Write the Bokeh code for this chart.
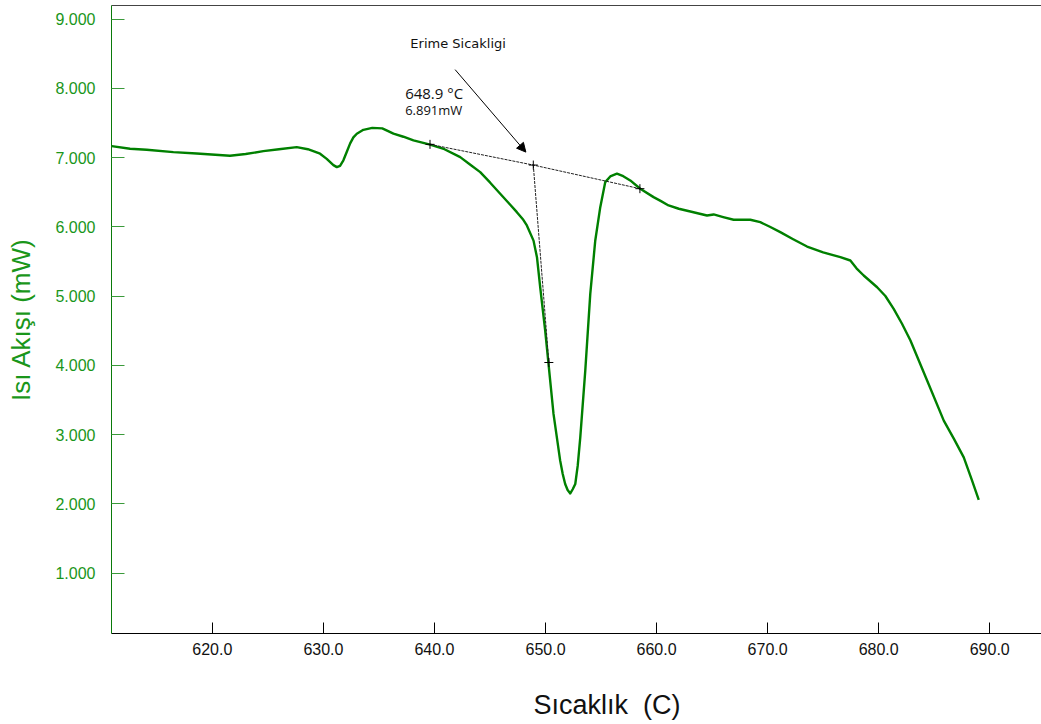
from bokeh.plotting import figure
from bokeh.models import (FixedTicker, NumeralTickFormatter, LinearAxis, Range1d,
                          Label, Arrow, NormalHead, Title)
from bokeh.embed import file_html
from bokeh.resources import INLINE

# ---- data ----
temp = [610.94, 612.59, 614.09, 616.49, 618.59, 621.59, 623.00, 624.59, 626.00, 627.60,
        628.60, 629.70, 630.30, 630.90, 631.21, 631.50, 631.80, 632.10, 632.41, 632.70,
        633.01, 633.60, 634.40, 635.30, 636.31, 637.20, 638.11, 639.61, 640.90, 642.32,
        643.20, 644.12, 645.00, 645.92, 646.70, 647.42, 648.00, 648.32, 648.92, 649.23,
        649.52, 649.97, 650.27, 650.72, 651.32, 651.55, 651.77, 651.99, 652.23, 652.45,
        652.68, 652.90, 653.13, 653.58, 654.03, 654.48, 654.93, 655.38, 655.83, 656.43,
        657.00, 657.63, 658.53, 659.73, 660.40, 661.08, 662.00, 663.04, 664.54, 665.14,
        666.00, 666.94, 668.44, 669.34, 670.20, 671.14, 672.30, 673.55, 675.00, 676.55,
        677.45, 678.00, 678.65, 679.86, 680.60, 681.35, 682.10, 682.86, 684.36, 685.86,
        686.80, 687.66, 688.41, 689.01]
heat_flow = [7.165, 7.127, 7.113, 7.078, 7.059, 7.026, 7.050, 7.092, 7.120, 7.150,
             7.120, 7.055, 6.980, 6.890, 6.861, 6.880, 6.960, 7.080, 7.204, 7.290,
             7.344, 7.400, 7.428, 7.420, 7.344, 7.300, 7.247, 7.185, 7.120, 7.006,
             6.900, 6.789, 6.640, 6.477, 6.340, 6.211, 6.100, 6.019, 5.800, 5.560,
             5.127, 4.501, 4.020, 3.298, 2.623, 2.430, 2.286, 2.200, 2.150, 2.210,
             2.286, 2.550, 2.960, 3.923, 5.032, 5.802, 6.283, 6.645, 6.727, 6.766,
             6.730, 6.669, 6.549, 6.428, 6.370, 6.308, 6.260, 6.221, 6.163, 6.178,
             6.140, 6.101, 6.101, 6.066, 6.000, 5.922, 5.820, 5.715, 5.630, 5.561,
             5.513, 5.400, 5.296, 5.127, 5.000, 4.815, 4.600, 4.357, 3.779, 3.201,
             2.930, 2.671, 2.334, 2.055]

# onset construction: baseline tangent A-B-C and leading-edge tangent B-D
baseline_x = [639.6, 648.9, 658.5]
baseline_y = [7.19, 6.891, 6.55]
edge_x = [648.9, 650.3]
edge_y = [6.891, 4.04]
marker_x = [639.6, 648.9, 658.5, 650.3]
marker_y = [7.19, 6.891, 6.55, 4.04]

onset_temp = "648.9"
onset_power = "6.891"
x_ticks = [620, 630, 640, 650, 660, 670, 680, 690]
y_ticks = [1, 2, 3, 4, 5, 6, 7, 8, 9]

GREEN = "#008000"
GREEN_TXT = "#1a961a"

p = figure(width=1041, height=724, output_backend="svg", toolbar_location=None,
           x_range=Range1d(610.92, 694.66), y_range=Range1d(0.127, 9.195),
           min_border_left=111, min_border_right=0, min_border_top=5, min_border_bottom=91)
p.outline_line_color = None
p.xgrid.visible = False
p.ygrid.visible = False
p.background_fill_color = "white"
p.border_fill_color = "white"

# curve
p.line(temp, heat_flow, line_color=GREEN, line_width=2.4, line_join="round")

# tangent lines
p.line(baseline_x, baseline_y, line_color="#222222", line_width=1, line_dash="3 1")
p.line(edge_x, edge_y, line_color="#222222", line_width=1, line_dash="3 1")
p.scatter(marker_x, marker_y, marker="cross", size=9, line_color="black", line_width=1)

# annotations
p.add_layout(Arrow(end=NormalHead(size=9, fill_color="black", line_color="black"),
                   x_start=641.86, y_start=8.269, x_end=648.23, y_end=7.078,
                   line_color="black", line_width=1))
p.add_layout(Label(x=642.13, y=8.649, text="Erime Sicakligi",
                   text_font="DejaVu Sans", text_font_size="13px", text_align="center",
                   text_baseline="middle", text_color="#111111"))
p.add_layout(Label(x=637.36, y=7.926, text=onset_temp + " \u00b0C",
                   text_font="Open Sans", text_font_size="15px", text_align="left",
                   text_baseline="middle", text_color="#111111"))
p.add_layout(Label(x=637.36, y=7.681, text=onset_power + "mW",
                   text_font="Open Sans", text_font_size="13px", text_align="left",
                   text_baseline="middle", text_color="#111111"))

# x axis
xa = p.xaxis[0]
xa.ticker = FixedTicker(ticks=x_ticks)
xa.formatter = NumeralTickFormatter(format="0.0")
xa.major_tick_in = 11
xa.major_tick_out = 0
xa.minor_tick_line_color = None
xa.axis_line_color = "black"
xa.major_tick_line_color = "black"
xa.major_label_text_font = "Liberation Sans"
xa.major_label_text_font_size = "16px"
xa.major_label_text_color = "#111111"
xa.major_label_standoff = 9

# y axis
ya = p.yaxis[0]
ya.ticker = FixedTicker(ticks=y_ticks)
ya.formatter = NumeralTickFormatter(format="0.000")
ya.major_tick_in = 13
ya.major_tick_out = 0
ya.minor_tick_line_color = None
ya.axis_line_color = "#0a7a0a"
ya.major_tick_line_color = "#3a9a3a"
ya.major_label_text_font = "Liberation Sans"
ya.major_label_text_font_size = "16px"
ya.major_label_text_color = GREEN_TXT
ya.major_label_standoff = 16
ya.axis_label = "Is\u0131 Ak\u0131\u015f\u0131 (mW)"
ya.axis_label_text_font = "Liberation Sans"
ya.axis_label_text_font_size = "26px"
ya.axis_label_text_font_style = "normal"
ya.axis_label_text_color = GREEN_TXT
ya.axis_label_standoff = 16

# top border as an empty axis
top = LinearAxis(ticker=FixedTicker(ticks=[]), major_label_text_font_size="0px",
                 major_tick_in=0, major_tick_out=0, minor_tick_line_color=None,
                 axis_line_color="#444444")
p.add_layout(top, "above")

# invisible spacer below the x axis, pushes the title down
spacer = LinearAxis(ticker=FixedTicker(ticks=[650]), major_label_overrides={650: ""},
                    major_label_text_font_size="1px", major_label_standoff=0,
                    major_tick_in=0, major_tick_out=30, major_tick_line_color=None,
                    minor_tick_line_color=None, axis_line_color=None)
p.add_layout(spacer, "below")

# x axis title, off-centre as in the original
p.add_layout(Title(text="S\u0131cakl\u0131k\u00a0\u00a0(C)", align="left", offset=422,
                   text_font="Liberation Sans", text_font_size="27px",
                   text_font_style="normal", text_color="#111111", standoff=0), "below")

open("out.html", "w").write(file_html(p, INLINE))
